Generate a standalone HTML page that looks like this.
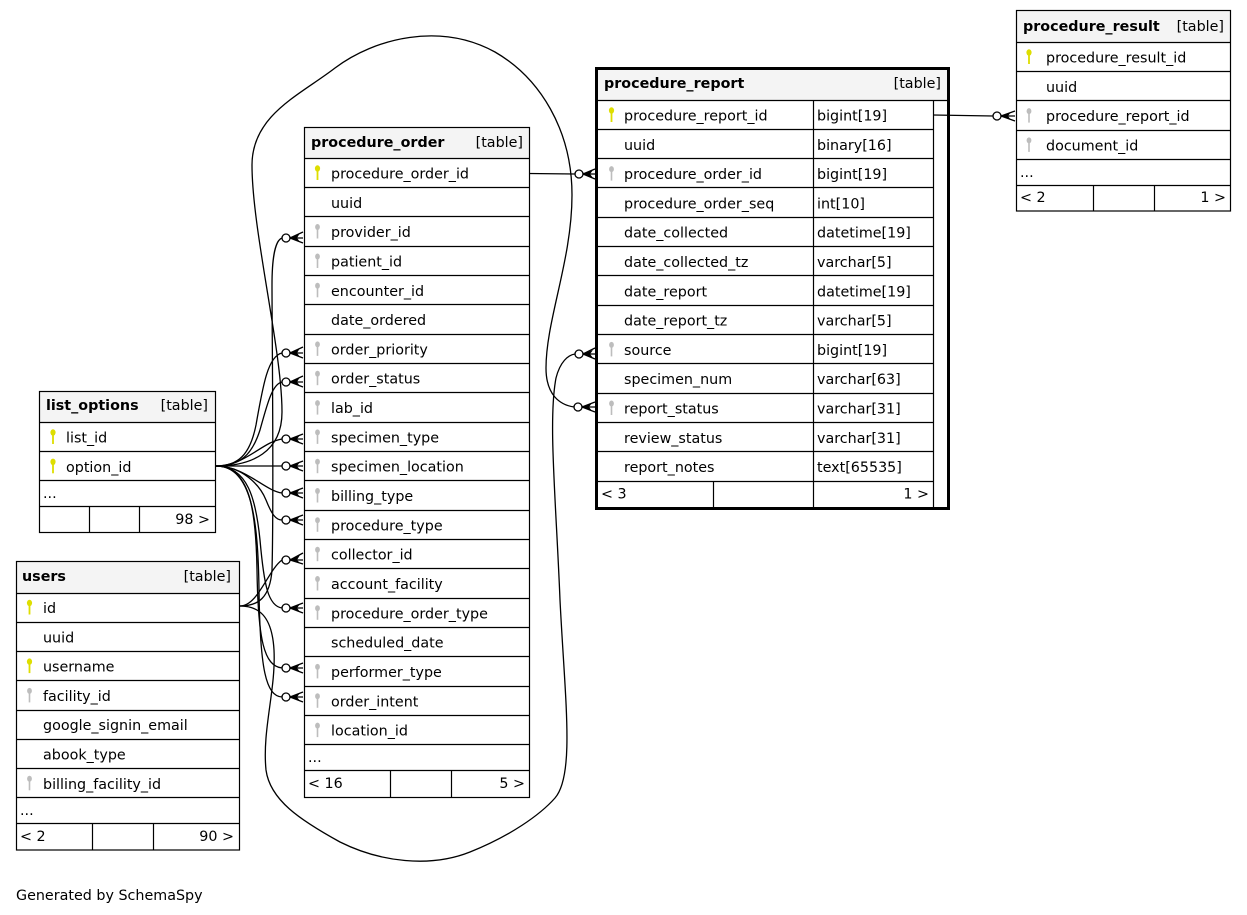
<!DOCTYPE html>
<html><head><meta charset="utf-8"><style>
html,body{margin:0;padding:0;background:#fff;}
svg{display:block;}
text{font-family:"DejaVu Sans","Liberation Sans",sans-serif;font-size:14.3px;fill:#000;}
.b{font-weight:bold;}
.ln{stroke:#000;stroke-width:1.2;fill:none;}
.e{stroke:#000;stroke-width:1.3;fill:none;}
.c{stroke:#000;stroke-width:1.3;fill:#fff;}
</style></head><body>
<svg width="1247" height="915" viewBox="0 0 1247 915" xmlns="http://www.w3.org/2000/svg">
<defs>
<g id="pk"><ellipse cx="0" cy="0" rx="2.6" ry="3.2" fill="#dede00"/><rect x="-0.9" y="2" width="1.8" height="9.5" fill="#dede00"/></g>
<g id="fk"><ellipse cx="0" cy="0" rx="2.4" ry="3" fill="#bdbdbd"/><rect x="-0.8" y="2" width="1.6" height="9.5" fill="#bdbdbd"/></g>
</defs>
<rect x="0" y="0" width="1247" height="915" fill="#fff"/>

<!-- ===== connectors ===== -->
<path class="e" d="M529,173.5 L575,174"/>
<path class="e" d="M933,115 L993,116"/>
<!-- top loop option_id -> report_status -->
<path class="e" d="M216,466 C252,466 282,452 282,412 C282,350 252,230 252,165 C252,115 300,95 335,68 C375,38 440,22 495,52 C540,78 572,130 572,195 C572,260 546,320 546,368 C546,395 560,405 574,407"/>
<!-- users.id -> source -->
<path class="e" d="M240,606 C258,606 272,615 274,650 C276,690 262,730 266,770 C270,800 300,820 340,842 C380,862 430,868 470,852 C510,836 540,815 555,798 C575,775 565,700 560,600 C556,500 548,420 556,378 C560,362 568,355 575,354"/>
<!-- users.id -> provider_id -->
<path class="e" d="M240,606 C258,606 270,598 272,570 C274,500 272,330 272,285 C272,255 276,240 282,238"/>
<!-- users.id -> collector_id -->
<path class="e" d="M240,606 C258,606 268,570 282,560"/>
<!-- option_id fan -->
<path class="e" d="M216,466 C238,466 250,455 256,425 C263,385 268,356 282,353"/>
<path class="e" d="M216,466 C240,466 252,455 260,430 C267,405 272,384 282,382"/>
<path class="e" d="M216,466 C245,466 262,442 282,439"/>
<path class="e" d="M216,466 L282,466"/>
<path class="e" d="M216,466 C245,466 265,491 282,493"/>
<path class="e" d="M216,466 C242,466 260,485 266,500 C272,515 276,520 282,520"/>
<path class="e" d="M216,466 C248,466 256,500 260,540 C264,585 268,606 282,608"/>
<path class="e" d="M216,466 C250,466 256,510 257,570 C258,640 264,666 282,668"/>
<path class="e" d="M216,466 C252,466 258,520 259,590 C260,670 266,696 282,697"/>

<!-- circles + crows at procedure_order -->
<g>
<circle class="c" cx="286" cy="238" r="4"/><path class="e" d="M290,238 L303,232 M290,238 L303,238 M290,238 L303,243"/><path d="M290,238 L300,233 L297,238 L300,242Z"/>
<circle class="c" cx="286" cy="353" r="4"/><path class="e" d="M290,353 L303,347 M290,353 L303,353 M290,353 L303,358"/><path d="M290,353 L300,348 L297,353 L300,357Z"/>
<circle class="c" cx="286" cy="382" r="4"/><path class="e" d="M290,382 L303,376 M290,382 L303,382 M290,382 L303,387"/><path d="M290,382 L300,377 L297,382 L300,386Z"/>
<circle class="c" cx="286" cy="439" r="4"/><path class="e" d="M290,439 L303,434 M290,439 L303,439 M290,439 L303,444"/><path d="M290,439 L300,435 L297,439 L300,443Z"/>
<circle class="c" cx="286" cy="466" r="4"/><path class="e" d="M290,466 L303,461 M290,466 L303,466 M290,466 L303,471"/><path d="M290,466 L300,462 L297,466 L300,470Z"/>
<circle class="c" cx="286" cy="493" r="4"/><path class="e" d="M290,493 L303,488 M290,493 L303,493 M290,493 L303,498"/><path d="M290,493 L300,489 L297,493 L300,497Z"/>
<circle class="c" cx="286" cy="520" r="4"/><path class="e" d="M290,520 L303,515 M290,520 L303,520 M290,520 L303,525"/><path d="M290,520 L300,516 L297,520 L300,524Z"/>
<circle class="c" cx="286" cy="560" r="4"/><path class="e" d="M290,560 L303,553 M290,560 L303,560 M290,560 L303,564"/><path d="M290,560 L300,555 L297,560 L300,563Z"/>
<circle class="c" cx="286" cy="608" r="4"/><path class="e" d="M290,608 L303,603 M290,608 L303,608 M290,608 L303,613"/><path d="M290,608 L300,604 L297,608 L300,612Z"/>
<circle class="c" cx="286" cy="668" r="4"/><path class="e" d="M290,668 L303,663 M290,668 L303,668 M290,668 L303,673"/><path d="M290,668 L300,664 L297,668 L300,672Z"/>
<circle class="c" cx="286" cy="697" r="4"/><path class="e" d="M290,697 L303,692 M290,697 L303,697 M290,697 L303,702"/><path d="M290,697 L300,693 L297,697 L300,701Z"/>
</g>
<!-- circles at procedure_report -->
<circle class="c" cx="579" cy="174" r="4"/><path class="e" d="M583,174 L595,169 M583,174 L595,174 M583,174 L595,179"/><path d="M583,174 L593,170 L590,174 L593,178Z"/>
<circle class="c" cx="579" cy="354" r="4"/><path class="e" d="M583,354 L595,348 M583,354 L595,354 M583,354 L595,359"/><path d="M583,354 L593,350 L590,354 L593,358Z"/>
<circle class="c" cx="578" cy="407" r="4"/><path class="e" d="M582,407 L595,402 M582,407 L595,407 M582,407 L595,412"/><path d="M582,407 L592,403 L589,407 L592,411Z"/>
<!-- circle at procedure_result -->
<circle class="c" cx="997" cy="116" r="4"/><path class="e" d="M1001,116 L1015,111 M1001,116 L1015,116 M1001,116 L1015,121"/><path d="M1001,116 L1011,112 L1008,116 L1011,120Z"/>

<!-- ===== procedure_order ===== -->
<rect x="304.5" y="127.5" width="225" height="31" fill="#f4f4f4"/>
<rect x="304.5" y="127.5" width="225" height="670" class="ln"/>
<path class="ln" d="M304,158.5H530 M304,187.5H530 M304,216.5H530 M304,246.5H530 M304,275.5H530 M304,304.5H530 M304,334.5H530 M304,363.5H530 M304,392.5H530 M304,422.5H530 M304,451.5H530 M304,480.5H530 M304,510.5H530 M304,539.5H530 M304,568.5H530 M304,598.5H530 M304,627.5H530 M304,656.5H530 M304,686.5H530 M304,715.5H530 M304,744.5H530 M304,770.5H530 M390.5,770.5V797.5 M451.5,770.5V797.5"/>
<text x="311" y="147" class="b">procedure_order</text>
<text x="523" y="147" text-anchor="end">[table]</text>
<use href="#pk" x="317.5" y="168.5"/><text x="331" y="178.5">procedure_order_id</text>
<text x="331" y="207.8">uuid</text>
<use href="#fk" x="317.5" y="227"/><text x="331" y="237.1">provider_id</text>
<use href="#fk" x="317.5" y="256.5"/><text x="331" y="266.5">patient_id</text>
<use href="#fk" x="317.5" y="285.8"/><text x="331" y="295.8">encounter_id</text>
<text x="331" y="325.1">date_ordered</text>
<use href="#fk" x="317.5" y="344.4"/><text x="331" y="354.4">order_priority</text>
<use href="#fk" x="317.5" y="373.7"/><text x="331" y="383.7">order_status</text>
<use href="#fk" x="317.5" y="403.1"/><text x="331" y="413.1">lab_id</text>
<use href="#fk" x="317.5" y="432.4"/><text x="331" y="442.4">specimen_type</text>
<use href="#fk" x="317.5" y="461.7"/><text x="331" y="471.7">specimen_location</text>
<use href="#fk" x="317.5" y="491"/><text x="331" y="501">billing_type</text>
<use href="#fk" x="317.5" y="520.3"/><text x="331" y="530.3">procedure_type</text>
<use href="#fk" x="317.5" y="549.7"/><text x="331" y="559.7">collector_id</text>
<use href="#fk" x="317.5" y="579"/><text x="331" y="589">account_facility</text>
<use href="#fk" x="317.5" y="608.3"/><text x="331" y="618.3">procedure_order_type</text>
<text x="331" y="647.6">scheduled_date</text>
<use href="#fk" x="317.5" y="666.9"/><text x="331" y="676.9">performer_type</text>
<use href="#fk" x="317.5" y="696.3"/><text x="331" y="706.3">order_intent</text>
<use href="#fk" x="317.5" y="725.6"/><text x="331" y="735.6">location_id</text>
<text x="308" y="762">...</text>
<text x="308" y="788">&lt; 16</text>
<text x="525" y="788" text-anchor="end">5 &gt;</text>

<!-- ===== procedure_report ===== -->
<rect x="596" y="68" width="353" height="32" fill="#f4f4f4"/>
<path class="ln" d="M596,100.5H949 M596,129.5H933 M596,158.5H933 M596,187.5H933 M596,217.5H933 M596,246.5H933 M596,275.5H933 M596,305.5H933 M596,334.5H933 M596,363.5H933 M596,393.5H933 M596,422.5H933 M596,451.5H933 M596,481.5H933 M813.5,100V509 M933.5,100V509 M713.5,481V509"/>
<rect x="596.5" y="68.5" width="352" height="440" fill="none" stroke="#000" stroke-width="3"/>
<text x="604" y="88" class="b">procedure_report</text>
<text x="941" y="88" text-anchor="end">[table]</text>
<use href="#pk" x="611.5" y="110.5"/><text x="624" y="120.5">procedure_report_id</text><text x="817" y="120.5">bigint[19]</text>
<text x="624" y="149.8">uuid</text><text x="817" y="149.8">binary[16]</text>
<use href="#fk" x="611.5" y="169.1"/><text x="624" y="179.1">procedure_order_id</text><text x="817" y="179.1">bigint[19]</text>
<text x="624" y="208.4">procedure_order_seq</text><text x="817" y="208.4">int[10]</text>
<text x="624" y="237.7">date_collected</text><text x="817" y="237.7">datetime[19]</text>
<text x="624" y="267">date_collected_tz</text><text x="817" y="267">varchar[5]</text>
<text x="624" y="296.3">date_report</text><text x="817" y="296.3">datetime[19]</text>
<text x="624" y="325.6">date_report_tz</text><text x="817" y="325.6">varchar[5]</text>
<use href="#fk" x="611.5" y="344.9"/><text x="624" y="354.9">source</text><text x="817" y="354.9">bigint[19]</text>
<text x="624" y="384.2">specimen_num</text><text x="817" y="384.2">varchar[63]</text>
<use href="#fk" x="611.5" y="403.5"/><text x="624" y="413.5">report_status</text><text x="817" y="413.5">varchar[31]</text>
<text x="624" y="442.8">review_status</text><text x="817" y="442.8">varchar[31]</text>
<text x="624" y="472.1">report_notes</text><text x="817" y="472.1">text[65535]</text>
<text x="601" y="498.5">&lt; 3</text>
<text x="929" y="498.5" text-anchor="end">1 &gt;</text>

<!-- ===== procedure_result ===== -->
<rect x="1016.5" y="10.5" width="214" height="31.5" fill="#f4f4f4"/>
<rect x="1016.5" y="10.5" width="214" height="200.5" class="ln"/>
<path class="ln" d="M1016,42.5H1231 M1016,71.5H1231 M1016,100.5H1231 M1016,130.5H1231 M1016,159.5H1231 M1016,185.5H1231 M1093.5,185.5V211 M1154.5,185.5V211"/>
<text x="1023" y="31" class="b">procedure_result</text>
<text x="1224" y="31" text-anchor="end">[table]</text>
<use href="#pk" x="1029" y="52.5"/><text x="1046" y="62.5">procedure_result_id</text>
<text x="1046" y="91.8">uuid</text>
<use href="#fk" x="1029" y="111.1"/><text x="1046" y="121.1">procedure_report_id</text>
<use href="#fk" x="1029" y="140.4"/><text x="1046" y="150.4">document_id</text>
<text x="1020" y="177">...</text>
<text x="1020" y="202">&lt; 2</text>
<text x="1226" y="202" text-anchor="end">1 &gt;</text>

<!-- ===== list_options ===== -->
<rect x="39.5" y="391.5" width="176" height="31" fill="#f4f4f4"/>
<rect x="39.5" y="391.5" width="176" height="141" class="ln"/>
<path class="ln" d="M39,422.5H216 M39,451.5H216 M39,480.5H216 M39,506.5H216 M89.5,506.5V532.5 M139.5,506.5V532.5"/>
<text x="46" y="410" class="b">list_options</text>
<text x="208" y="410" text-anchor="end">[table]</text>
<use href="#pk" x="53" y="432.5"/><text x="66" y="442.5">list_id</text>
<use href="#pk" x="53" y="461.8"/><text x="66" y="471.8">option_id</text>
<text x="43" y="498">...</text>
<text x="210" y="524" text-anchor="end">98 &gt;</text>

<!-- ===== users ===== -->
<rect x="16.5" y="561.5" width="223" height="31.5" fill="#f4f4f4"/>
<rect x="16.5" y="561.5" width="223" height="288.5" class="ln"/>
<path class="ln" d="M16,593.5H240 M16,622.5H240 M16,651.5H240 M16,680.5H240 M16,710.5H240 M16,739.5H240 M16,768.5H240 M16,797.5H240 M16,823.5H240 M92.5,823.5V850 M153.5,823.5V850"/>
<text x="22" y="581" class="b">users</text>
<text x="231" y="581" text-anchor="end">[table]</text>
<use href="#pk" x="29.5" y="603"/><text x="43" y="613">id</text>
<text x="43" y="642.3">uuid</text>
<use href="#pk" x="29.5" y="661.6"/><text x="43" y="671.6">username</text>
<use href="#fk" x="29.5" y="690.9"/><text x="43" y="700.9">facility_id</text>
<text x="43" y="730.2">google_signin_email</text>
<text x="43" y="759.5">abook_type</text>
<use href="#fk" x="29.5" y="778.8"/><text x="43" y="788.8">billing_facility_id</text>
<text x="20" y="815">...</text>
<text x="20" y="841">&lt; 2</text>
<text x="234" y="841" text-anchor="end">90 &gt;</text>

<text x="16" y="900">Generated by SchemaSpy</text>
</svg>
</body></html>
